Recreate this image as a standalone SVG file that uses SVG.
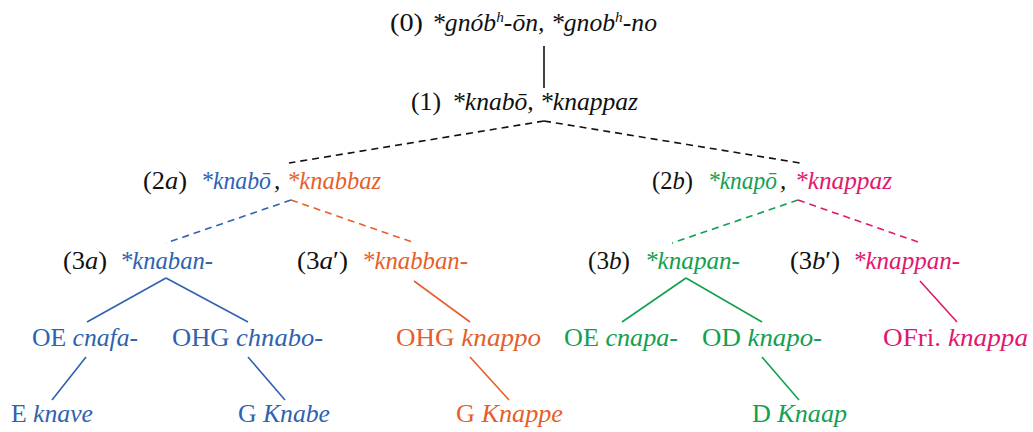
<svg xmlns="http://www.w3.org/2000/svg" width="1033" height="432" viewBox="0 0 1033 432" font-family="'Liberation Serif', 'DejaVu Serif', serif">
<style>
text{font-family:'Liberation Serif','DejaVu Serif',serif;font-size:25px;fill:#111}
.i{font-style:italic}
.sup{font-size:15px}
.k{fill:#111}
.b{fill:#2f62b0}
.o{fill:#e65f2b}
.g{fill:#13a050}
.p{fill:#e0186f}
line{stroke-width:1.6;fill:none}
.dash{stroke-dasharray:7 5}
.lk{stroke:#111}
.lb{stroke:#2f62b0}
.lo{stroke:#e65f2b}
.lg{stroke:#13a050}
.lp{stroke:#e0186f}
</style>
<rect width="1033" height="432" fill="#fff"/>
<g id="connectors">
<line class="lk" x1="544" y1="46" x2="544" y2="88"/>
<line class="lk dash" x1="544" y1="121" x2="289" y2="163"/>
<line class="lk dash" x1="544" y1="121" x2="800" y2="163"/>
<line class="lb dash" x1="291" y1="200" x2="166" y2="243"/>
<line class="lo dash" x1="291" y1="200" x2="415" y2="243"/>
<line class="lg dash" x1="798" y1="200" x2="672" y2="243"/>
<line class="lp dash" x1="798" y1="200" x2="921" y2="243"/>
<line class="lb" x1="166" y1="278" x2="87" y2="322"/>
<line class="lb" x1="166" y1="278" x2="248" y2="322"/>
<line class="lo" x1="414" y1="281" x2="470" y2="322"/>
<line class="lg" x1="686" y1="278" x2="622" y2="322"/>
<line class="lg" x1="686" y1="278" x2="762" y2="322"/>
<line class="lp" x1="920" y1="281" x2="957" y2="322"/>
<line class="lb" x1="86" y1="357" x2="52" y2="400"/>
<line class="lb" x1="248" y1="357" x2="285" y2="400"/>
<line class="lo" x1="470" y1="357" x2="509" y2="400"/>
<line class="lg" x1="762" y1="357" x2="799" y2="400"/>
</g>
<g id="n0">
<text x="390" y="31" textLength="33" lengthAdjust="spacingAndGlyphs">(0)</text>
<text x="432" y="31" class="i" textLength="225" lengthAdjust="spacingAndGlyphs">*gnób<tspan class="sup" dy="-9">h</tspan><tspan dy="9">-ōn, *gnob</tspan><tspan class="sup" dy="-9">h</tspan><tspan dy="9">-no</tspan></text>
</g>
<g id="n1">
<text x="411" y="110" textLength="30" lengthAdjust="spacingAndGlyphs">(1)</text>
<text x="452" y="110" class="i" textLength="186" lengthAdjust="spacingAndGlyphs">*knabō, *knappaz</text>
</g>
<g id="n2a">
<text x="143" y="189" textLength="44" lengthAdjust="spacingAndGlyphs">(2<tspan class="i">a</tspan>)</text>
<text x="201" y="189" class="i b" textLength="70" lengthAdjust="spacingAndGlyphs">*knabō</text>
<text x="274" y="189" class="i k">,</text>
<text x="287" y="189" class="i o" textLength="94" lengthAdjust="spacingAndGlyphs">*knabbaz</text>
</g>
<g id="n2b">
<text x="652" y="189" textLength="41" lengthAdjust="spacingAndGlyphs">(2<tspan class="i">b</tspan>)</text>
<text x="708" y="189" class="i g" textLength="69" lengthAdjust="spacingAndGlyphs">*knapō</text>
<text x="780" y="189" class="i k">,</text>
<text x="795" y="189" class="i p" textLength="97" lengthAdjust="spacingAndGlyphs">*knappaz</text>
</g>
<g id="n3a">
<text x="63" y="269" textLength="44" lengthAdjust="spacingAndGlyphs">(3<tspan class="i">a</tspan>)</text>
<text x="120" y="269" class="i b" textLength="93" lengthAdjust="spacingAndGlyphs">*knaban-</text>
</g>
<g id="n3a2">
<text x="297" y="269" textLength="51" lengthAdjust="spacingAndGlyphs">(3<tspan class="i">a</tspan>′)</text>
<text x="362" y="269" class="i o" textLength="106" lengthAdjust="spacingAndGlyphs">*knabban-</text>
</g>
<g id="n3b">
<text x="588" y="269" textLength="42" lengthAdjust="spacingAndGlyphs">(3<tspan class="i">b</tspan>)</text>
<text x="645" y="269" class="i g" textLength="95" lengthAdjust="spacingAndGlyphs">*knapan-</text>
</g>
<g id="n3b2">
<text x="790" y="269" textLength="50" lengthAdjust="spacingAndGlyphs">(3<tspan class="i">b</tspan>′)</text>
<text x="853" y="269" class="i p" textLength="107" lengthAdjust="spacingAndGlyphs">*knappan-</text>
</g>
<g id="oe1"><text x="32" y="346" class="b" textLength="106" lengthAdjust="spacingAndGlyphs">OE <tspan class="i">cnafa-</tspan></text></g>
<g id="ohg1"><text x="172" y="346" class="b" textLength="151" lengthAdjust="spacingAndGlyphs">OHG <tspan class="i">chnabo-</tspan></text></g>
<g id="ohg2"><text x="396" y="346" class="o" textLength="145" lengthAdjust="spacingAndGlyphs">OHG <tspan class="i">knappo</tspan></text></g>
<g id="oe2"><text x="564" y="346" class="g" textLength="114" lengthAdjust="spacingAndGlyphs">OE <tspan class="i">cnapa-</tspan></text></g>
<g id="od"><text x="702" y="346" class="g" textLength="120" lengthAdjust="spacingAndGlyphs">OD <tspan class="i">knapo-</tspan></text></g>
<g id="ofri"><text x="883" y="346" class="p" textLength="145" lengthAdjust="spacingAndGlyphs">OFri. <tspan class="i">knappa</tspan></text></g>
<g id="e"><text x="11" y="422" class="b" textLength="82" lengthAdjust="spacingAndGlyphs">E <tspan class="i">knave</tspan></text></g>
<g id="g1"><text x="238" y="422" class="b" textLength="92" lengthAdjust="spacingAndGlyphs">G <tspan class="i">Knabe</tspan></text></g>
<g id="g2"><text x="456" y="422" class="o" textLength="107" lengthAdjust="spacingAndGlyphs">G <tspan class="i">Knappe</tspan></text></g>
<g id="d"><text x="752" y="422" class="g" textLength="95" lengthAdjust="spacingAndGlyphs">D <tspan class="i">Knaap</tspan></text></g>
</svg>
